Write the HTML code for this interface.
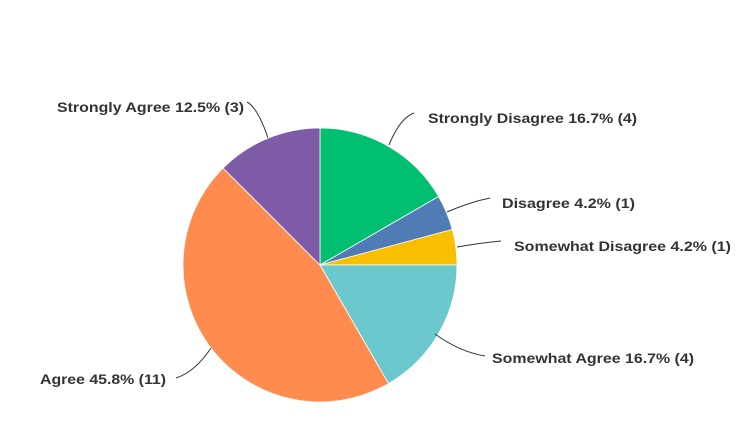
<!DOCTYPE html>
<html><head><style>
html,body{margin:0;padding:0;background:#fff;}
svg text{font-family:"Liberation Sans",sans-serif;font-weight:bold;font-size:14px;fill:#333;}
</style></head><body>
<svg width="752" height="431" viewBox="0 0 752 431" xmlns="http://www.w3.org/2000/svg">
<g stroke="#fff" stroke-width="0.8">
<path d="M320,265 L320,128 A137,137 0 0 1 438.6,196.5 Z" fill="#00BF6F"/>
<path d="M320,265 L438.6,196.5 A137,137 0 0 1 452.3,229.5 Z" fill="#507CB6"/>
<path d="M320,265 L452.3,229.5 A137,137 0 0 1 457,265 Z" fill="#F9BE00"/>
<path d="M320,265 L457,265 A137,137 0 0 1 388.5,383.6 Z" fill="#6BC8CD"/>
<path d="M320,265 L388.5,383.6 A137,137 0 0 1 223.1,168.1 Z" fill="#FF8B4F"/>
<path d="M320,265 L223.1,168.1 A137,137 0 0 1 320,128 Z" fill="#7D5BA6"/>
</g>
<g fill="none" stroke="#333" stroke-width="1">
<path d="M389,145 Q400,118 414,113"/>
<path d="M447,212 Q470,202 490,198"/>
<path d="M457,247 Q480,243 501,241"/>
<path d="M435,334 Q460,352 485,356"/>
<path d="M211,348 Q195,372 176,378"/>
<path d="M268,138 Q258,108 247,102"/>
</g>
<text x="428" y="123" textLength="209" lengthAdjust="spacingAndGlyphs">Strongly Disagree 16.7% (4)</text>
<text x="502" y="208" textLength="133" lengthAdjust="spacingAndGlyphs">Disagree 4.2% (1)</text>
<text x="514" y="251" textLength="217" lengthAdjust="spacingAndGlyphs">Somewhat Disagree 4.2% (1)</text>
<text x="492" y="363" textLength="202" lengthAdjust="spacingAndGlyphs">Somewhat Agree 16.7% (4)</text>
<text x="40" y="384" textLength="126" lengthAdjust="spacingAndGlyphs">Agree 45.8% (11)</text>
<text x="57" y="112" textLength="187" lengthAdjust="spacingAndGlyphs">Strongly Agree 12.5% (3)</text>
</svg>
</body></html>
